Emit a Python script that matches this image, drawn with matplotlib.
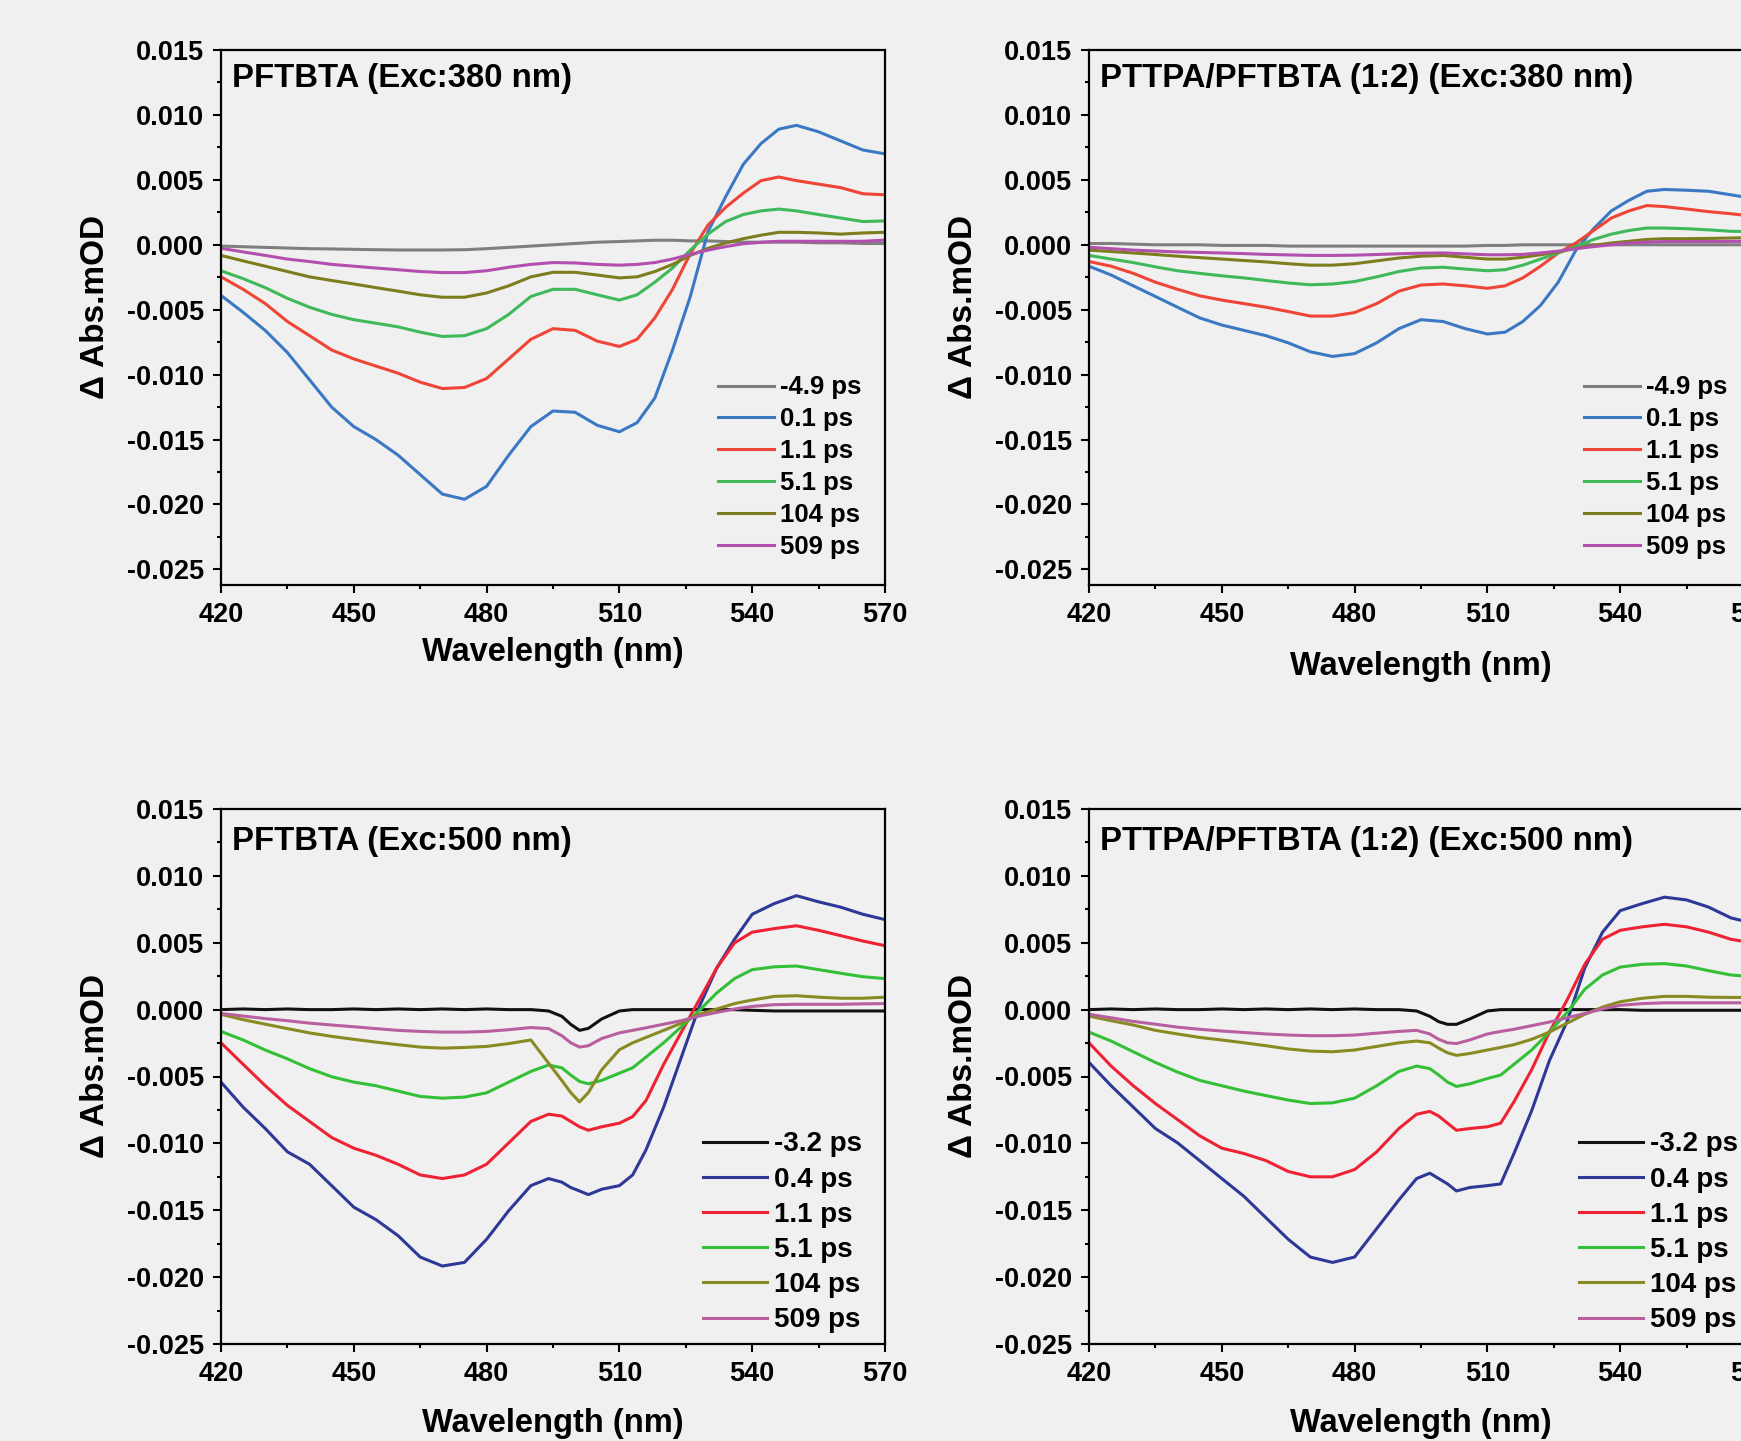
import matplotlib
matplotlib.use('Agg')
import matplotlib.pyplot as plt
from matplotlib.ticker import MultipleLocator, FuncFormatter

# ---------------- data ----------------
wl_top = [420, 425, 430, 435, 440, 445, 450, 455, 460, 465, 470, 475, 480, 485, 490, 495,
          500, 505, 510, 514, 518, 522, 526, 530, 534, 538, 542, 546, 550, 555, 560, 565, 570]

top_labels = ["-4.9 ps", "0.1 ps", "1.1 ps", "5.1 ps", "104 ps", "509 ps"]

# PFTBTA (Exc:380 nm)
tl_m4_9 = [-0.0001, -0.00015, -0.0002, -0.00025, -0.0003, -0.00032, -0.00035, -0.00038, -0.0004,
           -0.0004, -0.0004, -0.00038, -0.0003, -0.0002, -0.0001, 0.0, 0.0001, 0.0002, 0.00025,
           0.0003, 0.00035, 0.00035, 0.0003, 0.0003, 0.00025, 0.0002, 0.0002, 0.0002, 0.0002,
           0.00015, 0.00015, 0.0001, 0.0001]
tl_0_1 = [-0.0039, -0.0052, -0.0066, -0.0083, -0.0104, -0.0125, -0.0140, -0.0150, -0.0162,
          -0.0177, -0.0192, -0.0196, -0.0186, -0.0162, -0.0140, -0.0128, -0.0129, -0.0139,
          -0.0144, -0.0137, -0.0118, -0.0081, -0.0040, 0.0010, 0.0037, 0.0062, 0.0078, 0.0089,
          0.0092, 0.0087, 0.0080, 0.0073, 0.0070]
tl_1_1 = [-0.00247, -0.00343, -0.00453, -0.00591, -0.00700, -0.00810, -0.00879, -0.00934,
          -0.00989, -0.01058, -0.01107, -0.01099, -0.01030, -0.00879, -0.00728, -0.00646,
          -0.00659, -0.00742, -0.00783, -0.00728, -0.00563, -0.00343, -0.00069, 0.00151,
          0.00288, 0.00398, 0.00494, 0.00522, 0.00494, 0.00467, 0.00440, 0.00393, 0.00385]
tl_5_1 = [-0.00200, -0.00261, -0.00330, -0.00412, -0.00481, -0.00536, -0.00577, -0.00604,
          -0.00632, -0.00673, -0.00706, -0.00700, -0.00646, -0.00536, -0.00398, -0.00343,
          -0.00343, -0.00385, -0.00426, -0.00385, -0.00288, -0.00179, -0.00041, 0.00082,
          0.00179, 0.00233, 0.00261, 0.00275, 0.00261, 0.00233, 0.00206, 0.00179, 0.00184]
tl_104 = [-0.00082, -0.00124, -0.00165, -0.00206, -0.00247, -0.00275, -0.00302, -0.00330,
          -0.00357, -0.00385, -0.00404, -0.00404, -0.00371, -0.00316, -0.00247, -0.00212,
          -0.00212, -0.00233, -0.00255, -0.00247, -0.00206, -0.00151, -0.00082, -0.00027,
          0.00014, 0.00047, 0.00074, 0.00096, 0.00096, 0.00091, 0.00082, 0.00091, 0.00096]
tl_509 = [-0.00027, -0.00055, -0.00082, -0.00110, -0.00129, -0.00151, -0.00165, -0.00179,
          -0.00192, -0.00206, -0.00214, -0.00214, -0.00200, -0.00173, -0.00151, -0.00137,
          -0.00140, -0.00151, -0.00157, -0.00151, -0.00137, -0.00110, -0.00074, -0.00041,
          -0.00014, 0.00008, 0.00019, 0.00027, 0.00027, 0.00027, 0.00027, 0.00027, 0.00036]

# PTTPA/PFTBTA (1:2) (Exc:380 nm)
tr_m4_9 = [0.0001, 0.0001, 0.00005, 0.0, 0.0, 0.0, -0.00005, -0.00005, -0.00005, -0.0001,
           -0.0001, -0.0001, -0.0001, -0.0001, -0.0001, -0.0001, -0.0001, -0.0001, -0.00005,
           -0.00005, 0.0, 0.0, 0.0, 0.0, 0.0, 0.0, 0.0, 0.0, 0.0, 0.0, 0.0, 0.0, 0.0]
tr_0_1 = [-0.00165, -0.00233, -0.00316, -0.00398, -0.00481, -0.00563, -0.00618, -0.00659,
          -0.00700, -0.00755, -0.00824, -0.00860, -0.00838, -0.00755, -0.00646, -0.00577,
          -0.00591, -0.00646, -0.00687, -0.00673, -0.00591, -0.00467, -0.00288, -0.00041,
          0.00124, 0.00261, 0.00343, 0.00412, 0.00426, 0.00420, 0.00412, 0.00385, 0.00357]
tr_1_1 = [-0.00129, -0.00165, -0.00220, -0.00288, -0.00343, -0.00393, -0.00426, -0.00453,
          -0.00481, -0.00514, -0.00549, -0.00549, -0.00522, -0.00453, -0.00357, -0.00310,
          -0.00302, -0.00316, -0.00335, -0.00316, -0.00255, -0.00165, -0.00063, 0.00014,
          0.00110, 0.00206, 0.00261, 0.00302, 0.00294, 0.00275, 0.00255, 0.00239, 0.00220]
tr_5_1 = [-0.00082, -0.00110, -0.00137, -0.00170, -0.00200, -0.00220, -0.00239, -0.00255,
          -0.00275, -0.00294, -0.00308, -0.00302, -0.00283, -0.00247, -0.00206, -0.00179,
          -0.00173, -0.00187, -0.00200, -0.00192, -0.00157, -0.00110, -0.00063, -0.00014,
          0.00041, 0.00082, 0.00110, 0.00129, 0.00129, 0.00124, 0.00115, 0.00104, 0.00102]
tr_104 = [-0.00041, -0.00052, -0.00063, -0.00075, -0.00088, -0.00099, -0.00110, -0.00121,
          -0.00132, -0.00146, -0.00157, -0.00157, -0.00146, -0.00124, -0.00102, -0.00088,
          -0.00082, -0.00096, -0.00110, -0.00110, -0.00096, -0.00077, -0.00055, -0.00027,
          -0.00005, 0.00014, 0.00027, 0.00041, 0.00047, 0.00047, 0.00049, 0.00052, 0.00055]
tr_509 = [-0.00019, -0.00030, -0.00041, -0.00048, -0.00055, -0.00059, -0.00063, -0.00068,
          -0.00074, -0.00078, -0.00082, -0.00082, -0.00080, -0.00075, -0.00069, -0.00065,
          -0.00063, -0.00070, -0.00077, -0.00077, -0.00074, -0.00063, -0.00049, -0.00030,
          -0.00014, 0.0, 0.00014, 0.00020, 0.00025, 0.00025, 0.00025, 0.00026, 0.00027]

wl_bot = [420, 425, 430, 435, 440, 445, 450, 455, 460, 465, 470, 475, 480, 485, 490, 494,
          497, 499, 501, 503, 506, 510, 513, 516, 520, 524, 528, 532, 536, 540, 545, 550,
          555, 560, 565, 570]

bot_labels = ["-3.2 ps", "0.4 ps", "1.1 ps", "5.1 ps", "104 ps", "509 ps"]

# PFTBTA (Exc:500 nm)
bl_m3_2 = [0.0, 0.00005, 0.0, 0.00005, 0.0, 0.0, 0.00005, 0.0, 0.00005, 0.0, 0.00005, 0.0,
           0.00005, 0.0, 0.0, -0.0001, -0.0005, -0.0011, -0.00155, -0.0014, -0.0007, -0.0001,
           0.0, 0.0, 0.0, 0.0, 0.0, 0.0, 0.0, -0.00005, -0.0001, -0.0001, -0.0001, -0.0001,
           -0.0001, -0.0001]
bl_0_4 = [-0.00542, -0.00729, -0.00889, -0.01063, -0.01156, -0.01316, -0.01477, -0.01570,
          -0.01690, -0.01850, -0.01917, -0.01890, -0.01717, -0.01503, -0.01316, -0.01263,
          -0.01290, -0.01330, -0.01356, -0.01383, -0.01343, -0.01316, -0.01236, -0.01049,
          -0.00729, -0.00355, 0.00019, 0.00312, 0.00526, 0.00713, 0.00793, 0.00852, 0.00806,
          0.00766, 0.00713, 0.00673]
bl_1_1 = [-0.00248, -0.00409, -0.00569, -0.00716, -0.00836, -0.00956, -0.01036, -0.01089,
          -0.01156, -0.01236, -0.01263, -0.01236, -0.01156, -0.00996, -0.00836, -0.00782,
          -0.00796, -0.00836, -0.00876, -0.00902, -0.00876, -0.00849, -0.00800, -0.00680,
          -0.00409, -0.00168, 0.00072, 0.00312, 0.00499, 0.00579, 0.00606, 0.00627, 0.00593,
          0.00553, 0.00513, 0.00478]
bl_5_1 = [-0.00163, -0.00227, -0.00302, -0.00368, -0.00441, -0.00502, -0.00542, -0.00569,
          -0.00609, -0.00649, -0.00662, -0.00654, -0.00622, -0.00542, -0.00462, -0.00414,
          -0.00435, -0.00489, -0.00537, -0.00555, -0.00529, -0.00475, -0.00435, -0.00355,
          -0.00248, -0.00128, -0.00008, 0.00125, 0.00232, 0.00299, 0.00320, 0.00326, 0.00299,
          0.00272, 0.00246, 0.00232]
bl_104 = [-0.00035, -0.00075, -0.00109, -0.00142, -0.00174, -0.00200, -0.00222, -0.00243,
          -0.00262, -0.00280, -0.00288, -0.00283, -0.00275, -0.00254, -0.00227, -0.00400,
          -0.00530, -0.00620, -0.00690, -0.00620, -0.00450, -0.00300, -0.00248, -0.00208,
          -0.00155, -0.00101, -0.00035, 0.00005, 0.00045, 0.00072, 0.00099, 0.00104, 0.00093,
          0.00085, 0.00085, 0.00093]
bl_509 = [-0.00029, -0.00048, -0.00067, -0.00083, -0.00101, -0.00115, -0.00128, -0.00142,
          -0.00155, -0.00163, -0.00168, -0.00168, -0.00163, -0.00150, -0.00134, -0.00142,
          -0.00195, -0.00248, -0.00280, -0.00270, -0.00216, -0.00174, -0.00155, -0.00136,
          -0.00109, -0.00083, -0.00048, -0.00021, 0.00005, 0.00024, 0.00037, 0.00040, 0.00040,
          0.00040, 0.00043, 0.00045]

# PTTPA/PFTBTA (1:2) (Exc:500 nm)
br_m3_2 = [0.0, 0.00005, 0.0, 0.00005, 0.0, 0.0, 0.00005, 0.0, 0.00005, 0.0, 0.00005, 0.0,
           0.00005, 0.0, 0.0, -0.0001, -0.0005, -0.0009, -0.0011, -0.0011, -0.0007, -0.0001,
           0.0, 0.0, 0.0, 0.0, 0.0, 0.0, 0.0, 0.0, -0.00005, -0.00005, -0.00005, -0.00005,
           -0.00005, -0.00005]
br_0_4 = [-0.00395, -0.00569, -0.00729, -0.00889, -0.00996, -0.01129, -0.01263, -0.01396,
          -0.01557, -0.01717, -0.01850, -0.01890, -0.01850, -0.01637, -0.01423, -0.01263,
          -0.01223, -0.01263, -0.01303, -0.01356, -0.01330, -0.01316, -0.01303, -0.01076,
          -0.00756, -0.00382, -0.00088, 0.00312, 0.00579, 0.00740, 0.00793, 0.00841, 0.00820,
          0.00766, 0.00686, 0.00646]
br_1_1 = [-0.00248, -0.00422, -0.00569, -0.00702, -0.00822, -0.00943, -0.01036, -0.01076,
          -0.01129, -0.01210, -0.01250, -0.01250, -0.01196, -0.01063, -0.00889, -0.00782,
          -0.00761, -0.00796, -0.00849, -0.00902, -0.00889, -0.00876, -0.00849, -0.00689,
          -0.00449, -0.00168, 0.00072, 0.00339, 0.00526, 0.00593, 0.00619, 0.00638, 0.00619,
          0.00579, 0.00526, 0.00499]
br_5_1 = [-0.00168, -0.00235, -0.00315, -0.00395, -0.00467, -0.00529, -0.00569, -0.00609,
          -0.00643, -0.00676, -0.00702, -0.00697, -0.00662, -0.00569, -0.00462, -0.00422,
          -0.00441, -0.00489, -0.00542, -0.00574, -0.00555, -0.00515, -0.00489, -0.00409,
          -0.00302, -0.00168, -0.00021, 0.00152, 0.00259, 0.00318, 0.00339, 0.00344, 0.00326,
          0.00291, 0.00259, 0.00246]
br_104 = [-0.00048, -0.00083, -0.00115, -0.00155, -0.00182, -0.00208, -0.00227, -0.00248,
          -0.00270, -0.00294, -0.00310, -0.00315, -0.00302, -0.00275, -0.00248, -0.00235,
          -0.00248, -0.00288, -0.00323, -0.00342, -0.00328, -0.00302, -0.00283, -0.00262,
          -0.00222, -0.00168, -0.00101, -0.00035, 0.00019, 0.00059, 0.00085, 0.00099, 0.00099,
          0.00093, 0.00091, 0.00091]
br_509 = [-0.00035, -0.00061, -0.00088, -0.00109, -0.00131, -0.00147, -0.00160, -0.00171,
          -0.00182, -0.00190, -0.00195, -0.00195, -0.00190, -0.00176, -0.00163, -0.00155,
          -0.00182, -0.00222, -0.00248, -0.00254, -0.00227, -0.00182, -0.00163, -0.00147,
          -0.00120, -0.00093, -0.00061, -0.00029, 0.00005, 0.00032, 0.00045, 0.00051, 0.00051,
          0.00051, 0.00051, 0.00051]

titles = ["PFTBTA (Exc:380 nm)", "PTTPA/PFTBTA (1:2) (Exc:380 nm)",
          "PFTBTA (Exc:500 nm)", "PTTPA/PFTBTA (1:2) (Exc:500 nm)"]

# ---------------- styling ----------------
top_colors = ['#7f7f7f', '#3b78c4', '#ef4536', '#3fb95a', '#7d7d1e', '#b34fae']
bot_colors = ['#111111', '#2e3896', '#ee2233', '#33c036', '#8a8a22', '#b8609f']
BG = '#f0f0f0'

plt.rcParams['font.family'] = ['Liberation Sans', 'DejaVu Sans']
plt.rcParams['font.weight'] = 'bold'
plt.rcParams['axes.unicode_minus'] = False


def yfmt(v, pos):
    s = '%.3f' % v
    return '0.000' if s == '-0.000' else s


FW, FH = 1741, 1441
fig = plt.figure(figsize=(FW / 100, FH / 100), dpi=100, facecolor=BG)

AW, AH = 664 / FW, 535 / FH
panels = [
    dict(rect=[221 / FW, 1 - 585 / FH, AW, AH], wl=wl_top,
         ys=[tl_m4_9, tl_0_1, tl_1_1, tl_5_1, tl_104, tl_509], labels=top_labels,
         colors=top_colors, ylim=(-0.0262, 0.015), title=titles[0], ty=0.946,
         leg=(0.965, 0.048), legsize=18.5, hl=2.16, ls=0.31, xlab_y=-0.097),
    dict(rect=[1089 / FW, 1 - 585 / FH, AW, AH], wl=wl_top,
         ys=[tr_m4_9, tr_0_1, tr_1_1, tr_5_1, tr_104, tr_509], labels=top_labels,
         colors=top_colors, ylim=(-0.0262, 0.015), title=titles[1], ty=0.946,
         leg=(0.962, 0.048), legsize=18.5, hl=2.16, ls=0.31, xlab_y=-0.123),
    dict(rect=[221 / FW, 1 - 1344 / FH, AW, AH], wl=wl_bot,
         ys=[bl_m3_2, bl_0_4, bl_1_1, bl_5_1, bl_104, bl_509], labels=bot_labels,
         colors=bot_colors, ylim=(-0.025, 0.015), title=titles[2], ty=0.94,
         leg=(0.965, 0.02), legsize=20, hl=2.27, ls=0.33, xlab_y=-0.12),
    dict(rect=[1089 / FW, 1 - 1344 / FH, AW, AH], wl=wl_bot,
         ys=[br_m3_2, br_0_4, br_1_1, br_5_1, br_104, br_509], labels=bot_labels,
         colors=bot_colors, ylim=(-0.025, 0.015), title=titles[3], ty=0.94,
         leg=(0.977, 0.02), legsize=20, hl=2.27, ls=0.33, xlab_y=-0.12),
]

for p in panels:
    ax = fig.add_axes(p['rect'])
    ax.set_facecolor(BG)
    for y, c, lab in zip(p['ys'], p['colors'], p['labels']):
        ax.plot(p['wl'], y, color=c, lw=2.2, label=lab, solid_joinstyle='round')
    ax.set_xlim(420, 570)
    ax.set_ylim(*p['ylim'])
    ax.xaxis.set_major_locator(MultipleLocator(30))
    ax.xaxis.set_minor_locator(MultipleLocator(15))
    ax.yaxis.set_major_locator(MultipleLocator(0.005))
    ax.yaxis.set_minor_locator(MultipleLocator(0.0025))
    ax.yaxis.set_major_formatter(FuncFormatter(yfmt))
    ax.tick_params(which='major', direction='out', length=6, width=1.5, pad=6,
                   labelsize=19.5, top=False, right=False)
    ax.tick_params(which='minor', direction='out', length=3, width=1.5,
                   top=False, right=False)
    for s in ax.spines.values():
        s.set_linewidth(1.6)
    ax.set_xlabel('Wavelength (nm)', fontsize=23.5, fontweight='bold')
    ax.set_ylabel('Δ Abs.mOD', fontsize=24, fontweight='bold')
    ax.xaxis.set_label_coords(0.5, p['xlab_y'])
    ax.yaxis.set_label_coords(-0.165, 0.52)
    ax.text(0.016, p['ty'], p['title'], transform=ax.transAxes, ha='left', va='center',
            fontsize=23.7, fontweight='bold')
    ax.legend(loc='lower right', bbox_to_anchor=p['leg'], frameon=False, borderpad=0,
              borderaxespad=0, handlelength=p['hl'], handletextpad=0.26,
              labelspacing=p['ls'], prop={'size': p['legsize'], 'weight': 'bold'})

fig.savefig('out.png', dpi=100, facecolor=BG)
